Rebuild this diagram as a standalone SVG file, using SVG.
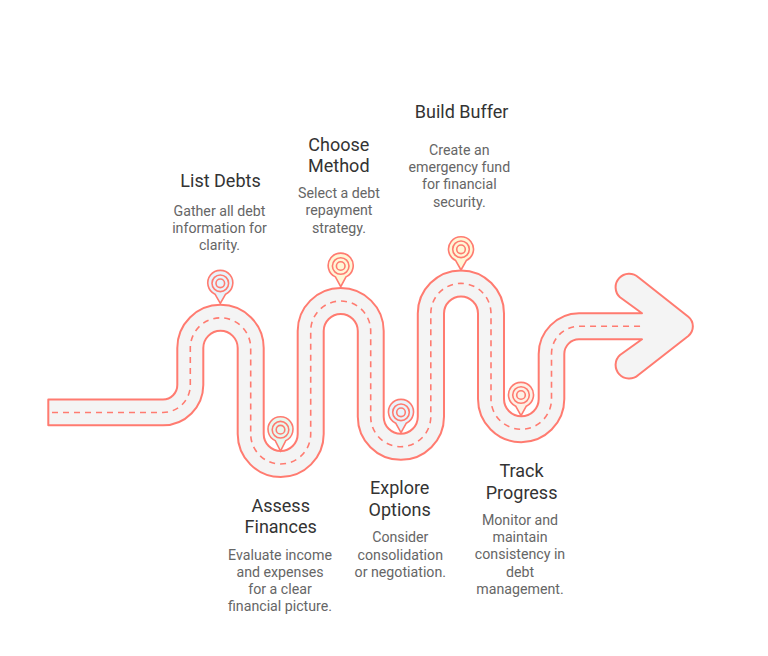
<svg xmlns="http://www.w3.org/2000/svg" width="768" height="656" viewBox="0 0 768 656">
<style>
.road{fill:#f4f4f4;stroke:#ff7b70;stroke-width:2;stroke-linejoin:round}
.dash{fill:none;stroke:#ff7b70;stroke-width:1.6;stroke-dasharray:6 5}
.ring{fill:none;stroke:#ff7b70;stroke-width:1.6}
.pin{stroke:#ff7b70;stroke-width:1.6}
.t{font-family:Roboto,"Liberation Sans",sans-serif;font-size:18px;fill:#333;text-anchor:middle}
.b{font-family:Roboto,"Liberation Sans",sans-serif;font-size:14.2px;fill:#666;text-anchor:middle}
</style>
<rect width="768" height="656" fill="#fff"/>
<g id="connectors">
<path class="road" d="M48.3 399.5H163A14.5 14.5 0 0 0 177.3 385V348A43.2 43.2 0 0 1 263.7 348V434A17 17 0 0 0 297.7 434V331A43 43 0 0 1 383.7 331V416.7A17 17 0 0 0 417.8 416.7V313.5A43 43 0 0 1 504 313.5V399A17.3 17.3 0 0 0 538.7 399V354A40.7 40.7 0 0 1 579 313.3H642L620 297.3A13 13 0 0 1 638.3 277.3L688.3 316.7A12.5 12.5 0 0 1 688.3 336L638.3 375A13 13 0 0 1 620 355L642 339.3H579A14.7 14.7 0 0 0 564.3 354V399A43 43 0 0 1 478 399V313.5A17 17 0 0 0 444 313.5V416.7A43 43 0 0 1 357.8 416.7V331A17 17 0 0 0 323.7 331V434A43 43 0 0 1 237.7 434V348A17.2 17.2 0 0 0 203.3 348V385A40.5 40.5 0 0 1 163 425.3H48.3Z"/>
<path class="dash" d="M52 412.5H163A27.5 27.5 0 0 0 190.3 385V348A30.2 30.2 0 0 1 250.7 348V434A30 30 0 0 0 310.7 434V331A30 30 0 0 1 370.7 331V416.7A30 30 0 0 0 430.8 416.7V313.5A30 30 0 0 1 491 313.5V399A30.2 30.2 0 0 0 551.5 399V354A27.5 27.5 0 0 1 579 326.3H642"/>
</g>
<g id="list-debts">
<path class="pin" fill="#e8f3fb" d="M220.3 303.3L215 294.2A12.5 12.5 0 1 1 225.6 294.2Z"/>
<circle class="ring" cx="220.3" cy="283.3" r="8.3"/><circle class="ring" cx="220.3" cy="283.3" r="4.3"/>
<text class="t" x="220.5" y="187">List Debts</text>
<text class="b" x="219.5" y="215.5">Gather all debt</text>
<text class="b" x="219.5" y="232.7">information for</text>
<text class="b" x="219.5" y="249.8">clarity.</text>
</g>
<g id="assess-finances">
<path class="pin" fill="#e6f8ee" d="M280.5 451L275.2 440.6A12.5 12.5 0 1 1 285.8 440.6Z"/>
<circle class="ring" cx="280.5" cy="429.7" r="8.3"/><circle class="ring" cx="280.5" cy="429.7" r="4.3"/>
<text class="t" x="280.7" y="511.5">Assess</text>
<text class="t" x="280.7" y="533">Finances</text>
<text class="b" x="280" y="559.5">Evaluate income</text>
<text class="b" x="280" y="576.7">and expenses</text>
<text class="b" x="280" y="593.8">for a clear</text>
<text class="b" x="280" y="611">financial picture.</text>
</g>
<g id="choose-method">
<path class="pin" fill="#fff6d6" d="M340.7 286.7L335.4 276.9A12.5 12.5 0 1 1 346 276.9Z"/>
<circle class="ring" cx="340.7" cy="266" r="8.3"/><circle class="ring" cx="340.7" cy="266" r="4.3"/>
<text class="t" x="338.8" y="150.5">Choose</text>
<text class="t" x="338.8" y="172">Method</text>
<text class="b" x="339" y="198.3">Select a debt</text>
<text class="b" x="339" y="215.4">repayment</text>
<text class="b" x="339" y="232.5">strategy.</text>
</g>
<g id="explore-options">
<path class="pin" fill="#e8f3fb" d="M401 432.7L395.7 423.2A12.5 12.5 0 1 1 406.3 423.2Z"/>
<circle class="ring" cx="401" cy="412.3" r="8.3"/><circle class="ring" cx="401" cy="412.3" r="4.3"/>
<text class="t" x="399.7" y="494.3">Explore</text>
<text class="t" x="399.7" y="516">Options</text>
<text class="b" x="400.3" y="542.3">Consider</text>
<text class="b" x="400.3" y="559.5">consolidation</text>
<text class="b" x="400.3" y="576.7">or negotiation.</text>
</g>
<g id="build-buffer">
<path class="pin" fill="#fff6d6" d="M461 270L455.7 260.5A12.5 12.5 0 1 1 466.3 260.5Z"/>
<circle class="ring" cx="461" cy="249.3" r="8.3"/><circle class="ring" cx="461" cy="249.3" r="4.3"/>
<text class="t" x="461.6" y="118">Build Buffer</text>
<text class="b" x="459.3" y="155">Create an</text>
<text class="b" x="459.3" y="172.2">emergency fund</text>
<text class="b" x="459.3" y="189.4">for financial</text>
<text class="b" x="459.3" y="206.6">security.</text>
</g>
<g id="track-progress">
<path class="pin" fill="#fdf1e6" d="M521 415.7L515.7 406.2A12.5 12.5 0 1 1 526.3 406.2Z"/>
<circle class="ring" cx="521" cy="395" r="8.3"/><circle class="ring" cx="521" cy="395" r="4.3"/>
<text class="t" x="521.6" y="477.3">Track</text>
<text class="t" x="521.6" y="499">Progress</text>
<text class="b" x="520" y="525">Monitor and</text>
<text class="b" x="520" y="542">maintain</text>
<text class="b" x="520" y="559.2">consistency in</text>
<text class="b" x="520" y="576.5">debt</text>
<text class="b" x="520" y="593.6">management.</text>
</g>
</svg>
